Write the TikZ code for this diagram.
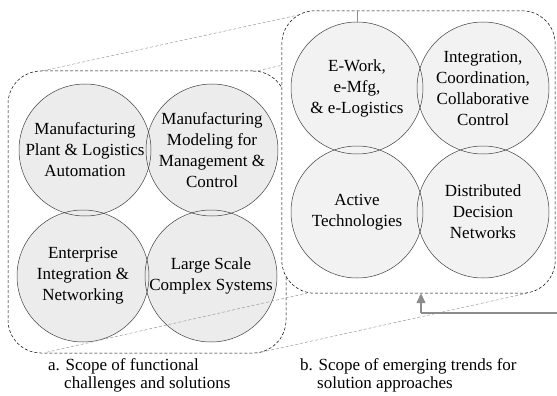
\documentclass[tikz,border=0pt]{standalone}
\usepackage{fontspec}
\setmainfont{Liberation Serif}
\usepackage{tikz}
\usetikzlibrary{calc,arrows.meta}

\begin{document}
\begin{tikzpicture}[x=1pt,y=-1pt,
    scopebox/.style={draw, dashed, dash pattern=on 3pt off 2pt, line width=0.5pt,
      rounded corners=33pt, inner sep=0pt},
    lcirc/.style={circle, fill=gray!15, minimum size=132pt, inner sep=0pt,
      align=center, font=\fontsize{17}{21}\selectfont},
    rcirc/.style={lcirc, fill=gray!10},
    ring/.style={draw=black!75, line width=0.5pt},
    zoomline/.style={draw=gray!80, dashed, dash pattern=on 3pt off 2pt, line width=0.5pt},
    feedline/.style={draw=gray!90, line width=1.3pt},
    caption/.style={anchor=north west, align=left, inner sep=0pt,
      font=\fontsize{17}{18}\selectfont}]
  \useasboundingbox (0,0) rectangle (557,396);

  % Define the boxes
  \node[scopebox, minimum width=278pt, minimum height=282pt] (lbox) at (147,212) {};
  \node[inner sep=0pt, minimum width=273pt, minimum height=282pt] (rbox) at (418.5,152) {};

  % Draw the left circles
  \node[lcirc] (mpla) at (85,150) {Manufacturing\\Plant \& Logistics\\Automation};
  \node[lcirc] (mmmc) at (212,150) {Manufacturing\\Modeling for\\Management \&\\Control};
  \node[lcirc] (eint) at (83,276) {Enterprise\\Integration \&\\Networking};
  \node[lcirc] (lscs) at (211,276) {Large Scale\\Complex Systems};
  \foreach \c in {mpla,mmmc,eint,lscs}
    \draw[ring] (\c.center) circle[radius=66pt];

  % Draw the zoom lines
  \draw[zoomline] ($(lbox.north west)+(35,0)$) -- ($(rbox.north west)+(36,0)$);
  \draw[zoomline] ($(lbox.north east)+(-33,1)$) -- ($(rbox.north east)+(-33,0)$);
  \draw[zoomline] ($(lbox.south west)+(39,-1)$) -- ($(rbox.south west)+(25,0)$);
  \draw[zoomline] ($(lbox.south east)+(-25,-1)$) -- ($(rbox.south east)+(-28,0)$);

  % Draw the right box over the lines
  \draw[scopebox, fill=white] (rbox.south west) rectangle (rbox.north east);

  % Draw the right circles
  \node[rcirc] (ework) at (357,88) {E-Work,\\e-Mfg,\\\& e-Logistics};
  \node[rcirc] (icc) at (483,88) {Integration,\\Coordination,\\Collaborative\\Control};
  \node[rcirc] (actt) at (357,212) {Active\\Technologies};
  \node[rcirc] (ddn) at (483,212) {Distributed\\Decision\\Networks};
  \foreach \c in {ework,icc,actt,ddn}
    \draw[ring] (\c.center) circle[radius=66pt];
  \coordinate (etop) at ($(ework.center)+(0,-66)$);
  \draw[draw=gray!90, line width=0.7pt] (etop |- rbox.north) -- (etop);

  % Draw the feedback arrow
  \coordinate (feed) at (421,313);
  \coordinate (feedend) at (557,313);
  \draw[feedline] (feedend) -- (feed);
  \draw[feedline, -{Triangle[width=9pt,length=10pt]}] (feed) -- (feed |- rbox.south);

  % Label the boxes
  \node[caption] (capa) at (48,358) {a. Scope of functional\\\phantom{a.}~challenges and solutions};
  \node[caption] (capb) at (300,358) {b. Scope of emerging trends for\\\phantom{b.}~solution approaches};
\end{tikzpicture}
\end{document}
